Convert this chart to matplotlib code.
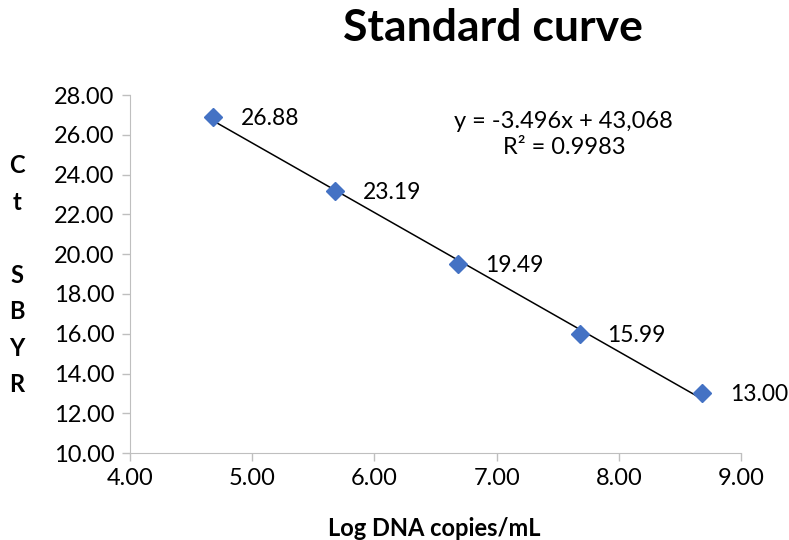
import matplotlib
matplotlib.use("Agg")
import matplotlib.pyplot as plt
import numpy as np

plt.rcParams['font.family'] = ['Lato', 'DejaVu Sans']

# standard dilution series
log_copies = [4.68, 5.68, 6.68, 7.68, 8.68]
ct_values = [26.88, 23.19, 19.49, 15.99, 13.00]
ct_labels = ['26.88', '23.19', '19.49', '15.99', '13.00']

# linear fit as reported
slope = -3.496
intercept = 43.068
r_squared = 0.9983

x_ticks = [4, 5, 6, 7, 8, 9]
y_ticks = [10, 12, 14, 16, 18, 20, 22, 24, 26, 28]

fig = plt.figure(figsize=(7.89, 5.40), dpi=100)
ax = fig.add_axes([0.1648, 0.161, 0.7744, 0.663])

xs = np.array([log_copies[0], log_copies[-1]])
ax.plot(xs, slope * xs + intercept, color='black', lw=1.1, zorder=2)
ax.plot(log_copies, ct_values, 'D', color='#4472C4', ms=9.5, mec='#4472C4', zorder=3)

for x, y, lab in zip(log_copies, ct_values, ct_labels):
    ax.annotate(lab, (x, y), xytext=(20, -1), textcoords='offset points',
                ha='left', va='center', fontsize=16.5)

ax.text(7.55, 26.02, 'y = -3.496x + 43,068\nR² = 0.9983', ha='center', va='center',
        multialignment='center', fontsize=17, linespacing=1.3)

ax.set_xlim(4, 9)
ax.set_ylim(10, 28)
ax.set_xticks(x_ticks)
ax.set_yticks(y_ticks)
ax.set_xticklabels([f'{v:.2f}' for v in x_ticks])
ax.set_yticklabels([f'{v:.2f}' for v in y_ticks])
ax.tick_params(labelsize=17, colors='#bfbfbf', labelcolor='black', length=6, width=1, pad=5)

for side in ['top', 'right']:
    ax.spines[side].set_visible(False)
for side in ['left', 'bottom']:
    ax.spines[side].set_color('#bfbfbf')

fig.text(0.625, 0.949, 'Standard curve', ha='center', va='center',
         fontsize=32, fontweight='bold')
fig.text(0.551, 0.022, 'Log DNA copies/mL', ha='center', va='center',
         fontsize=17, fontweight='bold')
fig.text(0.021, 0.49, 'C\nt\n\nS\nB\nY\nR', ha='center', va='center',
         fontsize=17, fontweight='bold', linespacing=1.71)

fig.savefig('out.png', dpi=100)
